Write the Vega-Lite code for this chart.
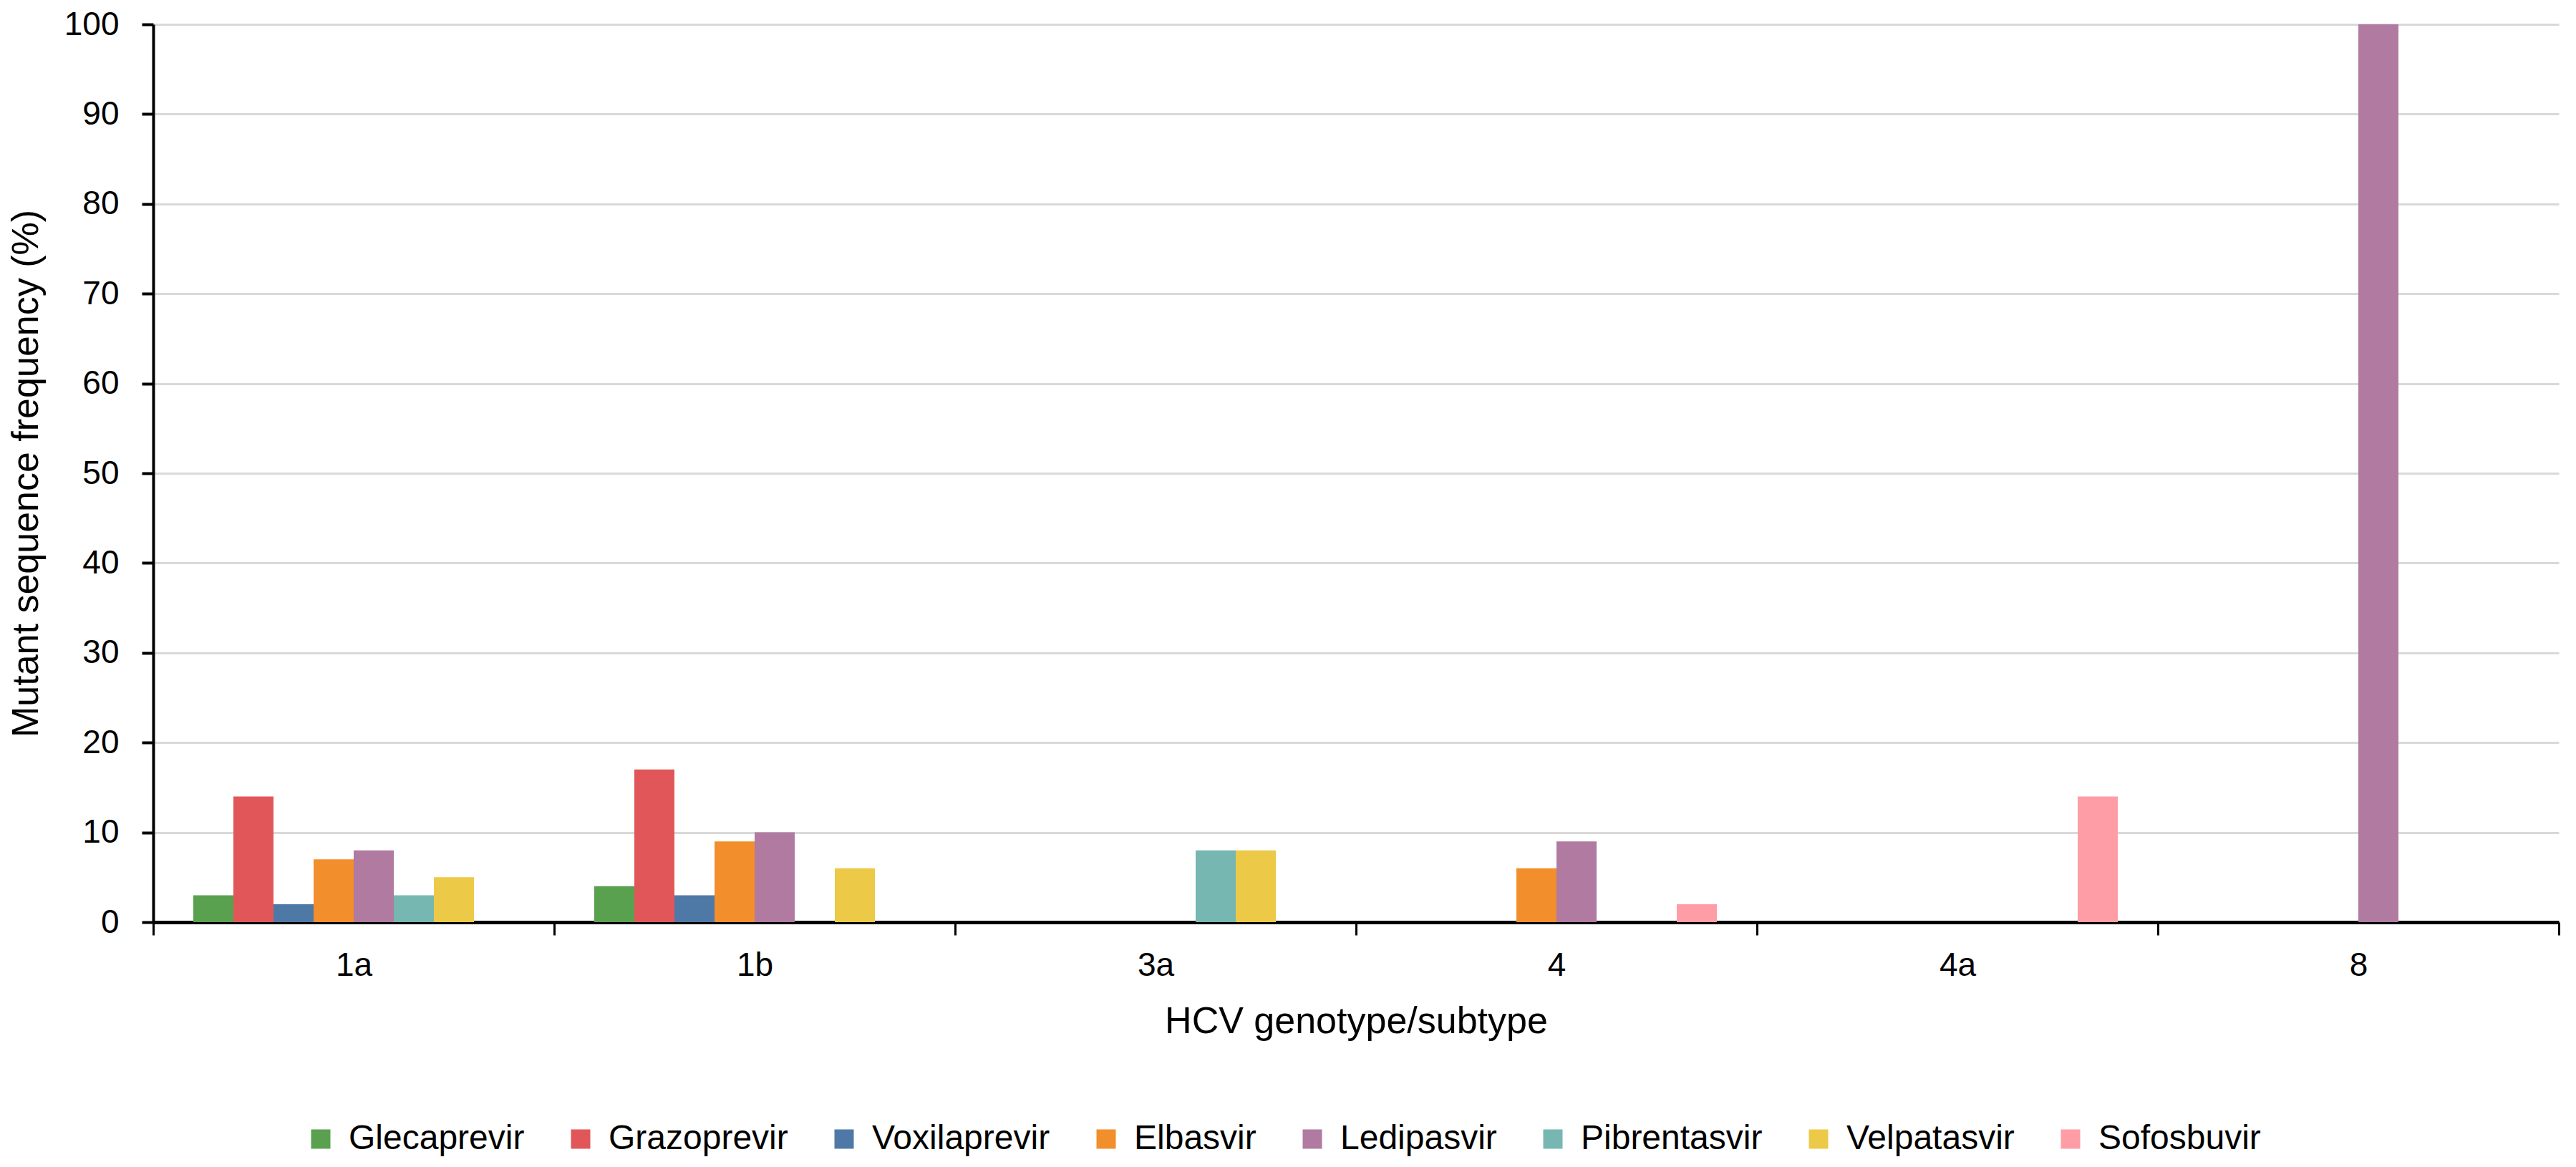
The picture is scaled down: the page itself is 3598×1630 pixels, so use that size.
{
  "$schema": "https://vega.github.io/schema/vega-lite/v6.json",
  "description": "Mutant sequence frequency by HCV genotype/subtype and drug.",
  "autosize": {"type": "none"},
  "width": 3360,
  "height": 1254,
  "padding": {"left": 214, "top": 34, "right": 24, "bottom": 342},
  "background": "white",
  "data": {
    "values": [
      {"genotype": "1a", "drug": "Glecaprevir", "freq": 3},
      {"genotype": "1a", "drug": "Grazoprevir", "freq": 14},
      {"genotype": "1a", "drug": "Voxilaprevir", "freq": 2},
      {"genotype": "1a", "drug": "Elbasvir", "freq": 7},
      {"genotype": "1a", "drug": "Ledipasvir", "freq": 8},
      {"genotype": "1a", "drug": "Pibrentasvir", "freq": 3},
      {"genotype": "1a", "drug": "Velpatasvir", "freq": 5},
      {"genotype": "1b", "drug": "Glecaprevir", "freq": 4},
      {"genotype": "1b", "drug": "Grazoprevir", "freq": 17},
      {"genotype": "1b", "drug": "Voxilaprevir", "freq": 3},
      {"genotype": "1b", "drug": "Elbasvir", "freq": 9},
      {"genotype": "1b", "drug": "Ledipasvir", "freq": 10},
      {"genotype": "1b", "drug": "Velpatasvir", "freq": 6},
      {"genotype": "3a", "drug": "Pibrentasvir", "freq": 8},
      {"genotype": "3a", "drug": "Velpatasvir", "freq": 8},
      {"genotype": "4", "drug": "Elbasvir", "freq": 6},
      {"genotype": "4", "drug": "Ledipasvir", "freq": 9},
      {"genotype": "4", "drug": "Sofosbuvir", "freq": 2},
      {"genotype": "4a", "drug": "Sofosbuvir", "freq": 14},
      {"genotype": "8", "drug": "Ledipasvir", "freq": 100}
    ]
  },
  "mark": {"type": "bar"},
  "encoding": {
    "x": {
      "field": "genotype",
      "type": "nominal",
      "title": "HCV genotype/subtype",
      "sort": ["1a", "1b", "3a", "4", "4a", "8"],
      "scale": {"domain": ["1a", "1b", "3a", "4", "4a", "8"], "paddingInner": 0, "paddingOuter": 0},
      "axis": {
        "labelAngle": 0,
        "tickBand": "extent",
        "tickSize": 18,
        "tickWidth": 3,
        "tickColor": "black",
        "domainColor": "black",
        "domainWidth": 5,
        "labelPadding": 20,
        "titlePadding": 30
      }
    },
    "xOffset": {
      "field": "drug",
      "type": "nominal",
      "scale": {
        "domain": ["Glecaprevir", "Grazoprevir", "Voxilaprevir", "Elbasvir", "Ledipasvir", "Pibrentasvir", "Velpatasvir", "Sofosbuvir"],
        "paddingInner": 0,
        "paddingOuter": 1.04
      }
    },
    "y": {
      "field": "freq",
      "type": "quantitative",
      "title": "Mutant sequence frequency (%)",
      "scale": {"domain": [0, 100], "nice": false},
      "axis": {
        "values": [0, 10, 20, 30, 40, 50, 60, 70, 80, 90, 100],
        "tickSize": 16,
        "tickWidth": 4,
        "tickColor": "black",
        "domainColor": "black",
        "domainWidth": 4,
        "gridColor": "#d9d9d9",
        "gridWidth": 3,
        "labelPadding": 32,
        "titlePadding": 26
      }
    },
    "color": {
      "field": "drug",
      "type": "nominal",
      "title": null,
      "scale": {
        "domain": ["Glecaprevir", "Grazoprevir", "Voxilaprevir", "Elbasvir", "Ledipasvir", "Pibrentasvir", "Velpatasvir", "Sofosbuvir"],
        "range": ["#59a14f", "#e15759", "#4e79a7", "#f28e2b", "#b07aa1", "#76b7b2", "#edc948", "#ff9da7"]
      },
      "legend": {
        "orient": "none",
        "legendX": 210,
        "legendY": 1533,
        "direction": "horizontal",
        "symbolType": "square",
        "symbolSize": 729,
        "symbolStrokeWidth": 0,
        "labelOffset": 15,
        "labelLimit": 0,
        "columnPadding": 54
      }
    }
  },
  "config": {
    "font": "Liberation Sans",
    "view": {"stroke": null},
    "axis": {
      "labelFont": "Liberation Sans",
      "titleFont": "Liberation Sans",
      "labelFontSize": 46,
      "titleFontSize": 52,
      "titleFontWeight": "normal",
      "labelColor": "black",
      "titleColor": "black"
    },
    "axisX": {"grid": false},
    "legend": {
      "labelFont": "Liberation Sans",
      "labelFontSize": 48,
      "labelColor": "black",
      "labelLimit": 0
    }
  }
}
